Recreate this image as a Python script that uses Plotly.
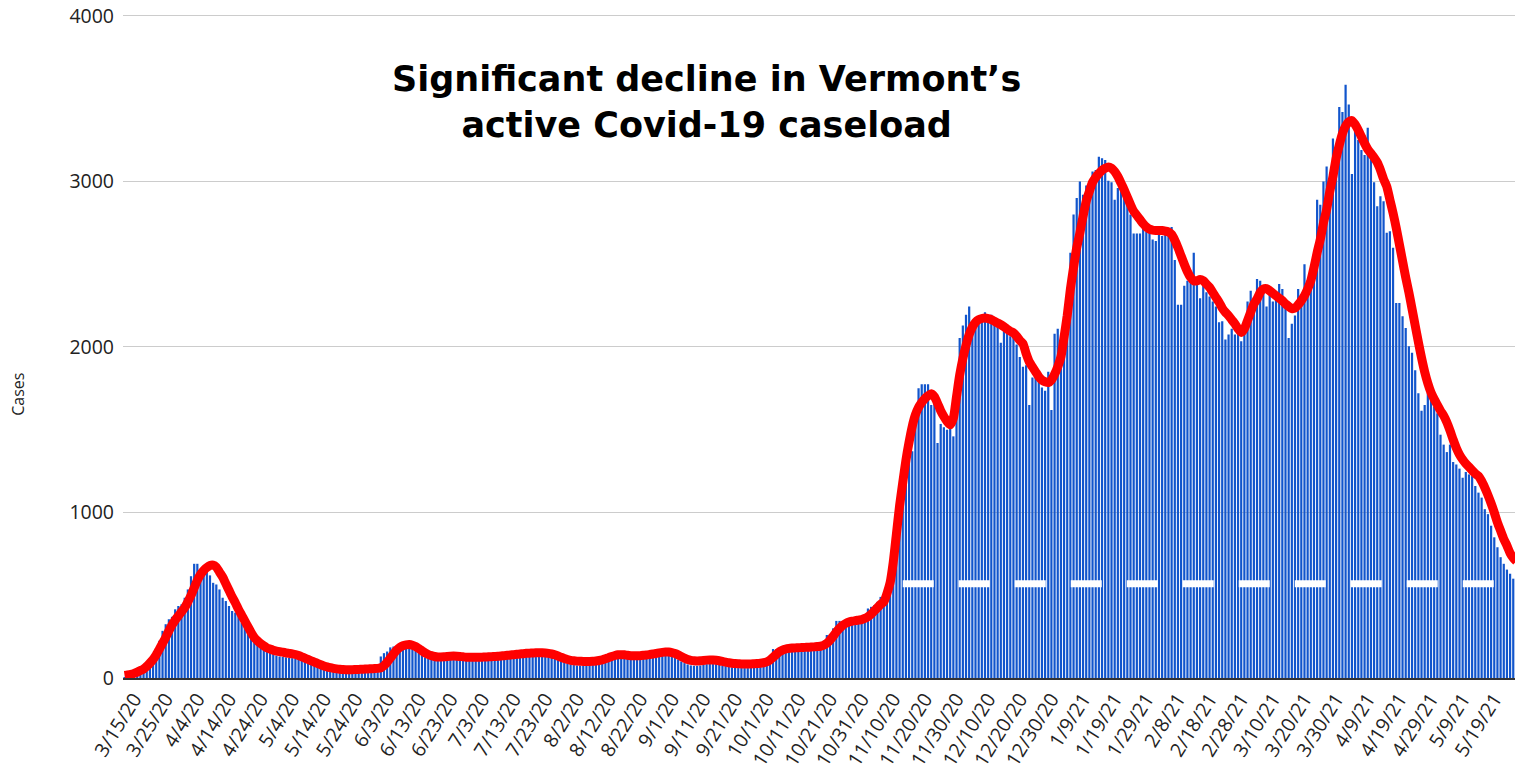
import pandas as pd
import plotly.graph_objects as go

# ---------------- data ----------------
START_DATE = "2020-03-12"

# daily active cases (bars), one value per day from 3/12/20
active_cases = [
    3, 5, 8, 12, 20, 40, 70, 84, 104, 135,
    165, 225, 285, 325, 355, 370, 415, 435, 445, 485,
    535, 615, 690, 690, 660, 655, 650, 620, 575, 565,
    535, 485, 465, 435, 405, 395, 375, 335, 315, 295,
    245, 215, 205, 185, 175, 165, 155, 145, 135, 130,
    128, 125, 122, 120, 118, 115, 110, 105, 100, 95,
    88, 82, 76, 70, 65, 60, 57, 55, 53, 52,
    50, 50, 50, 50, 50, 52, 52, 54, 55, 56,
    58, 130, 150, 160, 185, 190, 195, 200, 205, 200,
    190, 185, 175, 160, 140, 125, 120, 115, 112, 110,
    110, 110, 112, 115, 117, 117, 115, 112, 110, 108,
    107, 107, 108, 108, 109, 110, 110, 111, 112, 113,
    114, 116, 118, 120, 122, 124, 126, 128, 130, 132,
    133, 134, 135, 135, 134, 132, 128, 120, 105, 95,
    88, 82, 78, 76, 75, 75, 76, 78, 80, 82,
    86, 95, 105, 112, 118, 120, 122, 120, 118, 116,
    116, 117, 118, 120, 122, 125, 128, 130, 132, 135,
    137, 137, 135, 130, 122, 112, 100, 90, 82, 76,
    74, 74, 76, 80, 84, 86, 86, 84, 80, 76,
    72, 68, 65, 62, 60, 60, 60, 60, 61, 62,
    64, 66, 70, 74, 90, 175, 175, 160, 160, 165,
    165, 168, 170, 170, 170, 172, 174, 175, 177, 180,
    183, 186, 260, 265, 300, 345, 345, 330, 335, 335,
    340, 345, 350, 360, 380, 420, 430, 440, 460, 490,
    500, 560, 660, 870, 1000, 1140, 1130, 1290, 1380, 1370,
    1570, 1750, 1775, 1775, 1775, 1650, 1690, 1420, 1535, 1515,
    1500, 1525, 1460, 1820, 2055, 2130, 2195, 2245, 2110, 2150,
    2170, 2190, 2210, 2190, 2195, 2150, 2130, 2025, 2100, 2090,
    2065, 2055, 2015, 1940, 1880, 1890, 1650, 1815, 1860, 1795,
    1755, 1735, 1850, 1620, 2080, 2110, 2045, 2190, 2230, 2570,
    2800, 2900, 3000, 2920, 2975, 3000, 3060, 3070, 3150, 3140,
    3130, 3005, 2995, 2890, 2960, 2945, 2900, 2870, 2800, 2685,
    2685, 2685, 2725, 2695, 2695, 2650, 2640, 2685, 2670, 2685,
    2705, 2725, 2525, 2255, 2255, 2370, 2400, 2445, 2570, 2390,
    2295, 2370, 2330, 2305, 2275, 2245, 2150, 2155, 2045, 2075,
    2110, 2075, 2110, 2035, 2140, 2275, 2340, 2275, 2410, 2400,
    2340, 2245, 2340, 2275, 2285, 2380, 2350, 2275, 2055, 2140,
    2190, 2350, 2315, 2500, 2400, 2390, 2480, 2890, 2860, 3000,
    3090, 3000, 3260, 3180, 3450, 3420, 3585, 3465, 3045, 3310,
    3250, 3190, 3160, 3325, 3140, 2995, 2850, 2910, 2880, 2690,
    2700, 2600, 2265, 2265, 2185, 2115, 2005, 1965, 1860, 1720,
    1615, 1650, 1720, 1700, 1640, 1600, 1470, 1410, 1365, 1410,
    1305, 1290, 1265, 1210, 1245, 1230, 1220, 1160, 1120, 1090,
    1020, 990, 920, 850, 790, 730, 690, 655, 630, 600,
    570,
]

# red trend line, one value per day
trend_line = [
    15, 18, 22, 28, 36, 45, 55, 70, 90, 112,
    140, 175, 210, 245, 285, 320, 350, 375, 400, 425,
    460, 500, 545, 590, 625, 650, 668, 680, 682, 670,
    640, 610, 570, 530, 490, 455, 415, 380, 345, 310,
    275, 245, 225, 208, 195, 182, 175, 168, 163, 159,
    156, 152, 149, 146, 142, 136, 128, 120, 112, 104,
    96, 88, 80, 73, 67, 62, 58, 55, 53, 51,
    50, 50, 50, 51, 52, 53, 54, 55, 56, 57,
    58, 62, 75, 95, 120, 145, 168, 185, 195, 200,
    202, 198, 190, 178, 165, 152, 142, 135, 130, 127,
    127, 128, 130, 132, 133, 132, 130, 128, 126, 125,
    125, 125, 125, 126, 127, 128, 129, 130, 131, 133,
    135, 137, 139, 141, 143, 145, 147, 149, 150, 151,
    152, 152, 152, 151, 149, 145, 140, 133, 125, 118,
    112, 107, 104, 102, 101, 100, 100, 100, 101, 103,
    106, 110, 116, 123, 130, 136, 140, 141, 140, 137,
    135, 134, 134, 135, 137, 139, 142, 145, 148, 152,
    155, 157, 157, 154, 148, 140, 130, 120, 112, 107,
    104, 103, 104, 106, 108, 109, 109, 107, 104, 100,
    96, 92, 89, 87, 86, 85, 85, 85, 85, 86,
    87, 89, 92, 97, 108, 125, 142, 158, 168, 175,
    179, 181, 182, 183, 184, 185, 186, 187, 188, 190,
    192, 198, 210, 228, 252, 278, 300, 318, 330, 338,
    343, 347, 350, 353, 360, 370, 385, 405, 425, 445,
    460, 510, 575, 700, 870, 1040, 1180, 1315, 1425, 1520,
    1590, 1635, 1665, 1688, 1705, 1718, 1700, 1660, 1615, 1580,
    1550, 1530, 1570, 1700, 1830, 1930, 2010, 2075, 2120, 2150,
    2165, 2172, 2175, 2172, 2165, 2155, 2145, 2135, 2122, 2108,
    2095, 2085, 2065, 2040, 2020, 1960, 1910, 1880, 1850, 1820,
    1800, 1790, 1785, 1800, 1835, 1880, 1940, 2060, 2190, 2350,
    2480, 2600, 2690, 2790, 2880, 2940, 2995, 3025, 3048, 3068,
    3080, 3088, 3080, 3060, 3030, 2990, 2950, 2905, 2860, 2820,
    2795, 2770, 2745, 2725, 2712, 2706, 2704, 2704, 2704, 2700,
    2695, 2680, 2645, 2600, 2550, 2500, 2455, 2420, 2400, 2400,
    2408, 2400, 2380, 2360, 2330, 2300, 2270, 2235, 2210, 2190,
    2165, 2140, 2110, 2088, 2110, 2160, 2210, 2260, 2290, 2330,
    2350, 2352, 2340, 2325, 2310, 2295, 2280, 2260, 2245, 2232,
    2235, 2255, 2280, 2310, 2350, 2400, 2480, 2570, 2650, 2750,
    2830, 2940, 3030, 3140, 3220, 3290, 3335, 3360, 3368, 3345,
    3310, 3270, 3230, 3195, 3170, 3145, 3115, 3070, 3015, 2970,
    2890, 2810, 2720, 2620, 2520, 2420, 2330, 2230, 2130, 2030,
    1935, 1850, 1780, 1725, 1685, 1650, 1615, 1585, 1545, 1495,
    1440, 1390, 1350, 1320, 1295, 1275, 1255, 1235, 1220, 1190,
    1150, 1105, 1055, 1000, 940, 890, 840, 800, 755, 725,
    705,
]

title_lines = ["Significant decline in Vermont\u2019s", "active Covid-19 caseload"]
y_axis_title = "Cases"
y_ticks = [0, 1000, 2000, 3000, 4000]

# white dashed band seen across the bars
dash_level = 570
dash_start = "11/13/20"
dash_end = "5/19/21"

# ---------------- build ----------------
dates = pd.date_range(START_DATE, periods=len(active_cases), freq="D")
categories = [f"{d.month}/{d.day}/{d.year % 100}" for d in dates]
tick_labels = categories[3::10]

BAR_BLUE = "#1155cc"
TEXT = "#222222"
FONT = "Open Sans"

fig = go.Figure()
fig.add_trace(go.Bar(
    x=categories, y=active_cases,
    marker=dict(color=BAR_BLUE, line=dict(width=0)),
    hoverinfo="x+y",
))
fig.add_trace(go.Scatter(
    x=categories, y=trend_line, mode="lines",
    line=dict(color="#ff0000", width=9, shape="spline", smoothing=0.6),
    hoverinfo="skip",
))
fig.add_trace(go.Scatter(
    x=[dash_start, dash_end], y=[dash_level, dash_level], mode="lines",
    line=dict(color="#ffffff", width=7, dash="31px,25px"),
    hoverinfo="skip",
))

# the page adds an 8px body margin, so the figure is 8px smaller and margins shifted;
# the y range runs a little past 4000 so that the 4000 gridline and label are drawn
fig.update_layout(
    width=1515, height=760,
    margin=dict(l=115, r=5, t=3, b=90),
    plot_bgcolor="#ffffff", paper_bgcolor="#ffffff",
    showlegend=False,
    bargap=0.3,
    font=dict(family=FONT, color=TEXT),
    xaxis=dict(
        type="category",
        tickmode="array", tickvals=tick_labels, ticktext=tick_labels,
        tickangle=-58,
        tickfont=dict(family=FONT, size=19.5, color=TEXT),
        showgrid=False, ticks="",
        showline=True, linecolor="#333333", linewidth=2,
        automargin=False,
    ),
    yaxis=dict(
        range=[0, 4030],
        tickmode="array", tickvals=y_ticks, ticktext=[str(v) for v in y_ticks],
        tickfont=dict(family=FONT, size=19.5, color=TEXT),
        showgrid=True, gridcolor="#cccccc", gridwidth=1,
        zeroline=False, ticks="", ticklabelstandoff=8,
        ticklabeloverflow="allow",
        automargin=False,
    ),
    annotations=[
        dict(
            text="<br>".join(title_lines),
            xref="paper", yref="paper", x=0.4186, y=0.864,
            xanchor="center", yanchor="middle", showarrow=False,
            font=dict(family="DejaVu Sans", size=35, color="#000000", weight="bold"),
            align="center",
        ),
        dict(
            text=y_axis_title,
            xref="paper", yref="paper", x=-0.0753, y=0.426,
            xanchor="center", yanchor="middle", showarrow=False,
            textangle=-90,
            font=dict(family=FONT, size=16, color=TEXT),
        ),
    ],
)

fig.write_html("out.html")
